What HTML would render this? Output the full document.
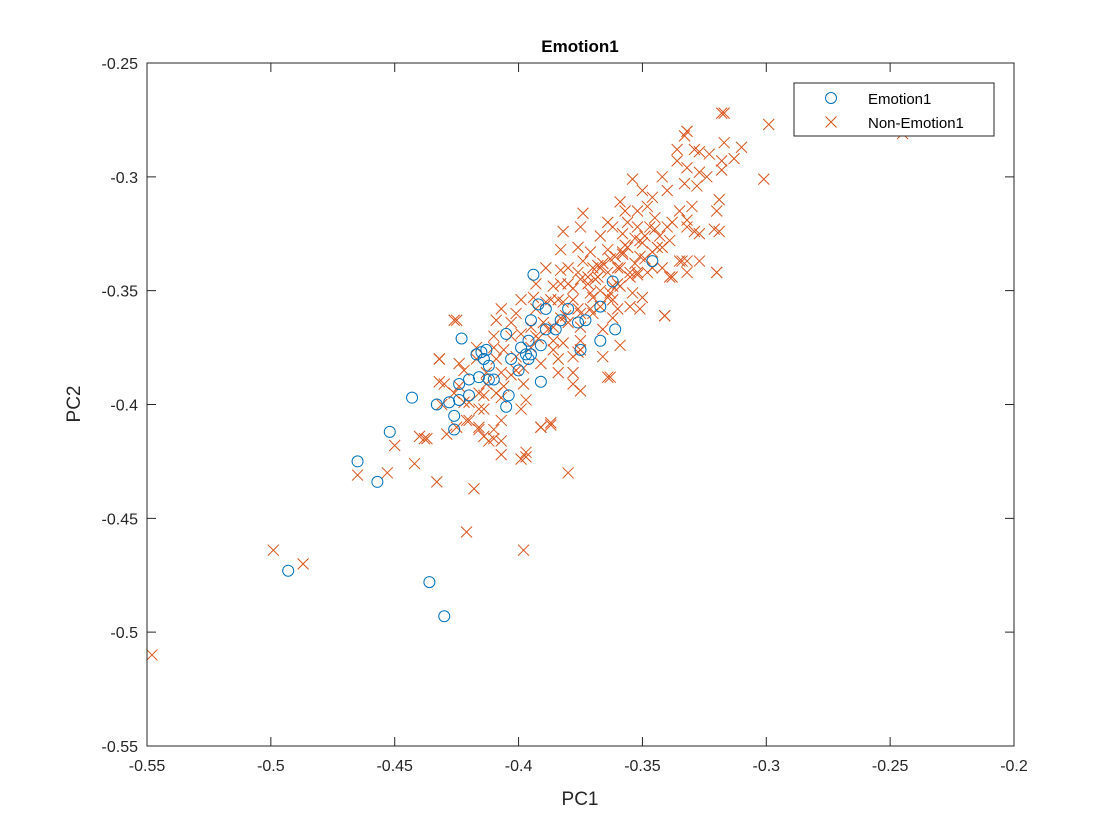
<!DOCTYPE html>
<html><head><meta charset="utf-8"><style>
html,body{margin:0;padding:0;background:#fff;}
svg{display:block;font-family:"Liberation Sans",sans-serif;}
</style></head><body>
<svg id="chart" width="1120" height="840" xmlns="http://www.w3.org/2000/svg">
<rect x="0" y="0" width="1120" height="840" fill="#fff"/>
<rect x="147" y="63" width="867" height="683" fill="#fff"/>
<g id="grid"></g>
<g id="marks"></g>
<rect x="147" y="63" width="867" height="683" fill="none" stroke="#262626" stroke-width="1"/>
<text x="580" y="52" text-anchor="middle" font-size="17" font-weight="bold" fill="#000">Emotion1</text>
<text x="580" y="805" text-anchor="middle" font-size="19" fill="#262626">PC1</text>
<text x="80" y="404" text-anchor="middle" font-size="19" fill="#262626" transform="rotate(-90 80 404)">PC2</text>
<g>
<rect x="794" y="83" width="200" height="53" fill="#fff" stroke="#262626" stroke-width="1"/>
<circle cx="831" cy="98" r="5.5" fill="none" stroke="#0072BD" stroke-width="1"/>
<text x="868" y="104" font-size="15" fill="#000">Emotion1</text>
<path d="M825.5 116.5 L836.5 127.5 M836.5 116.5 L825.5 127.5" stroke="#D95319" stroke-width="1"/>
<text x="868" y="128" font-size="15" fill="#000">Non-Emotion1</text>
</g>
</svg>
<script>
const xTicks=[-0.55,-0.5,-0.45,-0.4,-0.35,-0.3,-0.25,-0.2];
const xTickLabels=["-0.55","-0.5","-0.45","-0.4","-0.35","-0.3","-0.25","-0.2"];
const yTicks=[-0.25,-0.3,-0.35,-0.4,-0.45,-0.5,-0.55];
const yTickLabels=["-0.25","-0.3","-0.35","-0.4","-0.45","-0.5","-0.55"];
const emoX=[-0.465,-0.457,-0.452,-0.493,-0.436,-0.430,-0.443,-0.433,-0.426,-0.426,-0.428,-0.424,-0.423,-0.420,-0.417,-0.415,-0.413,-0.414,-0.412,-0.410,-0.416,-0.412,-0.405,-0.405,-0.404,-0.400,-0.399,-0.397,-0.396,-0.395,-0.394,-0.392,-0.395,-0.391,-0.396,-0.391,-0.389,-0.385,-0.383,-0.380,-0.376,-0.373,-0.367,-0.361,-0.367,-0.362,-0.346,-0.375,-0.389,-0.420,-0.424,-0.403];
const emoY=[-0.425,-0.434,-0.412,-0.473,-0.478,-0.493,-0.397,-0.400,-0.405,-0.411,-0.399,-0.391,-0.371,-0.396,-0.378,-0.377,-0.376,-0.380,-0.389,-0.389,-0.388,-0.383,-0.369,-0.401,-0.396,-0.385,-0.375,-0.378,-0.372,-0.363,-0.343,-0.356,-0.378,-0.390,-0.380,-0.374,-0.367,-0.367,-0.363,-0.358,-0.364,-0.363,-0.372,-0.367,-0.357,-0.346,-0.337,-0.376,-0.358,-0.389,-0.398,-0.380];
const nonX=[-0.548,-0.499,-0.487,-0.465,-0.453,-0.450,-0.442,-0.438,-0.433,-0.418,-0.421,-0.398,-0.397,-0.399,-0.380,-0.391,-0.387,-0.426,-0.432,-0.432,-0.431,-0.440,-0.416,-0.412,-0.410,-0.407,-0.416,-0.420,-0.422,-0.414,-0.407,-0.403,-0.399,-0.375,-0.376,-0.364,-0.359,-0.351,-0.341,-0.334,-0.327,-0.320,-0.321,-0.319,-0.329,-0.318,-0.299,-0.301,-0.245,-0.332,-0.329,
-0.317,-0.332,-0.333,-0.317,-0.310,-0.327,-0.323,-0.318,-0.313,-0.336,-0.336,-0.332,-0.327,-0.324,-0.318,-0.342,-0.354,-0.350,-0.340,-0.333,-0.328,-0.346,-0.359,-0.357,-0.352,-0.348,-0.335,-0.330,-0.320,-0.374,-0.382,-0.375,-0.364,-0.362,-0.356,-0.352,-0.347,-0.340,-0.332,-0.327,-0.319,-0.332,-0.367,-0.358,-0.351,-0.344,-0.339,-0.383,-0.376,-0.371,-0.364,-0.358,-0.351,-0.335,-0.332,-0.332,-0.320,-0.338,-0.389,-0.380,-0.374,-0.367,-0.360,-0.355,-0.346,-0.383,-0.375,-0.368,-0.362,-0.354,-0.350,-0.355,-0.364,-0.371,-0.378,-0.384,-0.389,-0.367,-0.360,-0.341,-0.375,
-0.383,-0.376,-0.370,-0.364,-0.359,-0.352,-0.342,-0.339,-0.348,-0.393,-0.386,-0.380,-0.372,-0.367,-0.359,-0.399,-0.394,-0.387,-0.382,-0.370,-0.362,-0.407,-0.401,-0.393,-0.383,-0.376,-0.370,-0.362,-0.425,-0.409,-0.403,-0.395,-0.390,-0.386,-0.380,-0.375,-0.366,-0.410,-0.403,-0.399,-0.393,-0.386,-0.382,-0.375,-0.417,-0.410,-0.406,-0.401,-0.395,-0.386,-0.375,-0.366,-0.432,-0.424,-0.417,-0.409,-0.398,-0.391,-0.384,-0.378,-0.363,-0.384,-0.378,-0.422,-0.413,-0.407,-0.401,-0.430,-0.424,-0.413,-0.406,-0.398,-0.378,-0.426,-0.416,-0.409,-0.397,-0.420,-0.414,-0.421,-0.425,-0.416,-0.410,-0.414,-0.407,-0.429,-0.437,-0.391,-0.387,-0.397,-0.407,
-0.357,-0.353,-0.349,-0.345,-0.361,-0.366,-0.356,-0.350,-0.343,-0.338,-0.372,-0.368,-0.363,-0.358,-0.353,-0.346,-0.378,-0.369,-0.360,-0.355,-0.349,-0.342,-0.345,-0.352,-0.363,-0.371,-0.381,-0.388,-0.392];
const nonY=[-0.510,-0.464,-0.470,-0.431,-0.430,-0.418,-0.426,-0.415,-0.434,-0.437,-0.456,-0.464,-0.423,-0.424,-0.430,-0.410,-0.409,-0.363,-0.380,-0.390,-0.400,-0.414,-0.411,-0.416,-0.415,-0.407,-0.402,-0.407,-0.399,-0.396,-0.397,-0.387,-0.402,-0.394,-0.377,-0.388,-0.374,-0.358,-0.361,-0.337,-0.337,-0.342,-0.323,-0.310,-0.324,-0.272,-0.277,-0.301,-0.281,-0.280,-0.288,
-0.272,-0.280,-0.282,-0.285,-0.287,-0.289,-0.290,-0.293,-0.292,-0.288,-0.293,-0.296,-0.298,-0.300,-0.297,-0.300,-0.301,-0.306,-0.306,-0.303,-0.304,-0.309,-0.311,-0.315,-0.315,-0.313,-0.315,-0.313,-0.315,-0.316,-0.324,-0.322,-0.320,-0.322,-0.320,-0.322,-0.322,-0.322,-0.319,-0.325,-0.324,-0.322,-0.326,-0.325,-0.328,-0.331,-0.328,-0.332,-0.331,-0.333,-0.332,-0.333,-0.335,-0.337,-0.337,-0.342,-0.342,-0.344,-0.340,-0.340,-0.337,-0.340,-0.340,-0.342,-0.340,-0.347,-0.345,-0.344,-0.348,-0.351,-0.353,-0.357,-0.353,-0.351,-0.354,-0.354,-0.355,-0.357,-0.358,-0.361,-0.360,
-0.341,-0.342,-0.340,-0.342,-0.340,-0.342,-0.340,-0.344,-0.342,-0.347,-0.348,-0.347,-0.347,-0.350,-0.348,-0.354,-0.353,-0.354,-0.355,-0.353,-0.354,-0.358,-0.360,-0.358,-0.362,-0.358,-0.360,-0.362,-0.363,-0.363,-0.364,-0.366,-0.364,-0.366,-0.364,-0.366,-0.367,-0.370,-0.370,-0.369,-0.370,-0.372,-0.373,-0.372,-0.375,-0.375,-0.376,-0.379,-0.375,-0.376,-0.376,-0.379,-0.380,-0.382,-0.380,-0.380,-0.384,-0.382,-0.380,-0.379,-0.388,-0.386,-0.386,-0.385,-0.386,-0.386,-0.385,-0.391,-0.392,-0.391,-0.392,-0.391,-0.391,-0.395,-0.395,-0.395,-0.398,-0.399,-0.402,-0.407,-0.410,-0.410,-0.411,-0.414,-0.416,-0.413,-0.415,-0.410,-0.408,-0.421,-0.422,
-0.330,-0.327,-0.326,-0.323,-0.335,-0.338,-0.331,-0.329,-0.326,-0.320,-0.344,-0.339,-0.336,-0.334,-0.338,-0.333,-0.349,-0.345,-0.347,-0.344,-0.336,-0.331,-0.318,-0.343,-0.351,-0.358,-0.361,-0.367,-0.371];

const L=147,R=1014,T=63,B=746;
const xMin=-0.55,xMax=-0.2,yMin=-0.55,yMax=-0.25;
function sx(v){return L+(v-xMin)/(xMax-xMin)*(R-L);}
function sy(v){return B-(v-yMin)/(yMax-yMin)*(B-T);}
const NS='http://www.w3.org/2000/svg';
const grid=document.getElementById('grid');
const marks=document.getElementById('marks');
function mk(tag,attrs,parent){const e=document.createElementNS(NS,tag);for(const k in attrs)e.setAttribute(k,attrs[k]);parent.appendChild(e);return e;}
xTicks.forEach((t,i)=>{
  const x=sx(t);
  const a=mk('path',{d:`M${x} ${B} V${B-9} M${x} ${T} V${T+9}`,stroke:'#262626','stroke-width':1},grid);
  
  
  const tx=mk('text',{x:x,y:B+25,'text-anchor':'middle','font-size':16,fill:'#262626'},grid);
  tx.textContent=xTickLabels[i];
  
  
});
yTicks.forEach((t,i)=>{
  const y=sy(t);
  const a=mk('path',{d:`M${L} ${y} H${L+9} M${R} ${y} H${R-9}`,stroke:'#262626','stroke-width':1},grid);
  
  
  const tx=mk('text',{x:L-9,y:y+6,'text-anchor':'end','font-size':16,fill:'#262626'},grid);
  tx.textContent=yTickLabels[i];
  
  
});
for(let i=0;i<nonX.length;i++){
  const x=sx(nonX[i]),y=sy(nonY[i]),h=5.5;
  const p=mk('path',{d:`M${x-h} ${y-h} L${x+h} ${y+h} M${x+h} ${y-h} L${x-h} ${y+h}`,stroke:'#D95319','stroke-width':1,fill:'none'},marks);
  
  
}
for(let i=0;i<emoX.length;i++){
  const c=mk('circle',{cx:sx(emoX[i]),cy:sy(emoY[i]),r:5.5,fill:'none',stroke:'#0072BD','stroke-width':1},marks);
  
  
}
</script>
</body></html>
